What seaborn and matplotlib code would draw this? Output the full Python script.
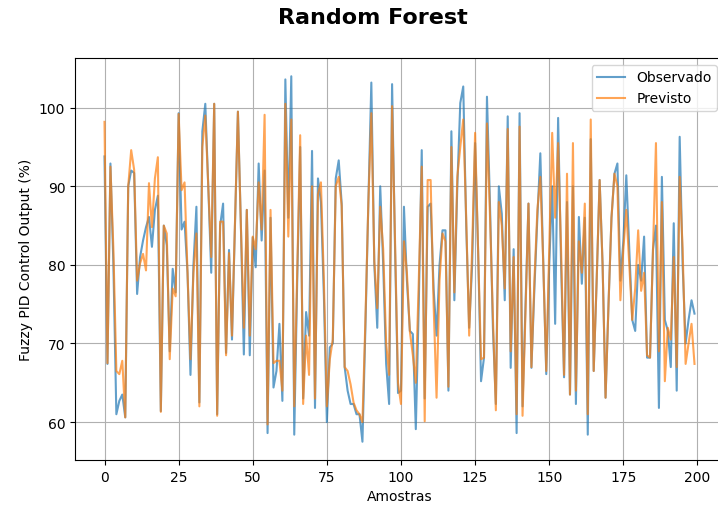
import numpy as np
import pandas as pd
import matplotlib
matplotlib.use("Agg")
import matplotlib.pyplot as plt
import seaborn as sns

# valores (amostras 0..199)
observado = [
    93.8, 67.4, 92.9, 80.0, 61.0, 62.7, 63.5, 60.6, 90.0, 92.0,
    91.7, 76.3, 81.0, 83.1, 84.8, 86.1, 82.3, 87.0, 88.8, 61.4,
    85.0, 82.5, 69.0, 79.5, 76.5, 99.3, 84.5, 85.5, 79.0, 66.0,
    80.0, 87.4, 62.5, 97.0, 100.5, 90.0, 79.0, 100.5, 61.0, 85.0,
    87.8, 68.8, 81.9, 70.5, 85.0, 99.5, 85.0, 68.6, 87.0, 68.5,
    83.5, 79.7, 92.9, 83.1, 92.0, 58.6, 86.0, 64.4, 66.5, 72.5,
    62.7, 103.6, 86.0, 104.0, 58.4, 78.0, 95.0, 63.0, 74.0, 71.0,
    94.5, 61.8, 91.0, 88.0, 76.0, 60.0, 69.5, 70.0, 91.0, 93.3,
    87.8, 67.0, 64.0, 62.3, 62.3, 61.0, 61.0, 57.5, 72.0, 88.0,
    103.2, 80.1, 72.0, 90.0, 80.0, 67.4, 62.3, 103.0, 82.0, 63.7,
    64.0, 87.4, 78.0, 71.6, 71.2, 59.1, 75.0, 94.6, 63.0, 87.4,
    87.8, 77.0, 71.0, 80.0, 84.4, 84.4, 64.0, 97.0, 75.5, 90.0,
    100.6, 102.7, 85.0, 72.0, 80.0, 95.5, 82.0, 65.2, 68.2, 101.4,
    88.0, 72.0, 62.3, 90.0, 86.5, 75.5, 98.9, 66.9, 82.0, 58.6,
    99.3, 62.0, 75.0, 87.8, 66.9, 77.0, 86.0, 94.2, 80.0, 66.1,
    80.0, 90.0, 72.5, 98.7, 80.0, 65.7, 88.0, 63.5, 90.0, 62.3,
    86.1, 77.6, 86.0, 58.4, 96.0, 66.5, 78.0, 90.8, 80.0, 63.1,
    75.0, 86.0, 91.6, 92.9, 78.0, 83.0, 91.4, 82.0, 73.0, 71.6,
    80.0, 78.0, 83.6, 68.2, 68.2, 82.0, 85.0, 61.8, 91.2, 73.0,
    71.6, 67.0, 85.3, 64.0, 96.3, 80.0, 70.0, 73.0, 75.5, 73.8,
]
previsto = [
    98.2, 67.5, 92.5, 82.0, 66.5, 66.1, 67.8, 60.6, 90.0, 94.6,
    92.1, 78.0, 80.2, 81.4, 79.3, 90.4, 84.8, 91.0, 93.7, 61.3,
    85.0, 84.0, 68.0, 77.0, 76.0, 99.2, 89.5, 90.5, 79.0, 68.0,
    79.0, 84.0, 62.0, 95.0, 99.0, 90.0, 81.0, 100.5, 60.8, 85.5,
    85.5, 68.5, 81.5, 71.0, 85.0, 99.5, 85.0, 72.0, 87.0, 71.0,
    83.6, 82.0, 90.5, 84.5, 99.1, 59.7, 87.0, 67.5, 67.8, 67.8,
    64.0, 100.5, 83.6, 98.5, 62.0, 79.0, 96.5, 62.3, 71.0, 66.0,
    90.0, 63.0, 89.0, 90.5, 78.0, 62.0, 68.0, 70.5, 90.0, 91.2,
    87.5, 67.0, 66.5, 64.8, 62.5, 61.5, 61.0, 60.0, 73.0, 88.0,
    99.3, 80.5, 74.5, 87.4, 82.0, 70.0, 66.0, 100.2, 83.0, 65.0,
    62.3, 83.0, 79.0, 71.5, 68.5, 65.0, 78.0, 92.5, 60.1, 90.8,
    90.8, 75.0, 63.1, 78.0, 84.0, 83.0, 64.5, 95.0, 76.5, 91.2,
    95.0, 98.5, 86.0, 71.0, 82.0, 96.8, 82.0, 68.0, 68.2, 98.0,
    86.5, 73.5, 61.5, 88.0, 85.0, 77.0, 97.3, 69.0, 81.0, 61.0,
    97.6, 60.8, 74.0, 87.8, 67.0, 78.0, 87.0, 91.2, 80.0, 66.5,
    82.0, 96.8, 86.0, 95.5, 82.0, 66.0, 91.6, 63.5, 95.5, 64.0,
    83.0, 79.0, 87.8, 61.0, 98.5, 66.5, 78.0, 90.8, 80.0, 63.1,
    75.0, 86.0, 91.6, 90.0, 75.5, 82.0, 87.0, 80.0, 73.0, 77.0,
    84.4, 76.7, 79.0, 68.5, 68.2, 82.0, 95.5, 69.0, 88.0, 65.2,
    72.0, 70.5, 81.0, 67.0, 91.2, 82.0, 67.4, 70.0, 72.5, 67.4,
]
amostras = np.arange(len(observado))

df = pd.DataFrame({"Amostras": amostras, "Observado": observado, "Previsto": previsto})

fig = plt.figure(figsize=(7.18, 5.06), dpi=100)
# eixo um pouco alem da borda direita, como na figura original (recortada)
ax = fig.add_axes([75 / 718, 45 / 506, (724 - 75) / 718, (461 - 59) / 506])

sns.lineplot(data=df, x="Amostras", y="Observado", ax=ax, color="tab:blue",
             alpha=0.7, linewidth=1.5, label="Observado")
sns.lineplot(data=df, x="Amostras", y="Previsto", ax=ax, color="tab:orange",
             alpha=0.7, linewidth=1.5, label="Previsto")

ax.grid(True, color="#b0b0b0", linewidth=0.8)
ax.set_xlabel("Amostras")
ax.set_ylabel("Fuzzy PID Control Output (%)")
ax.set_xticks([0, 25, 50, 75, 100, 125, 150, 175, 200])
ax.set_yticks([60, 70, 80, 90, 100])
ax.legend(loc="upper right")

fig.suptitle("Random Forest", fontsize=16, fontweight="bold", x=373 / 718, y=0.985)

fig.savefig("out.png", dpi=100)
